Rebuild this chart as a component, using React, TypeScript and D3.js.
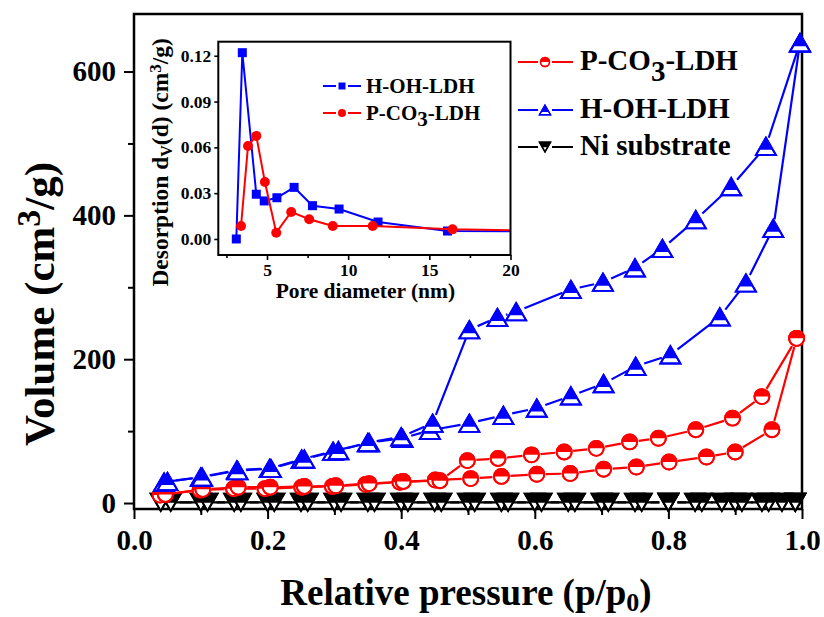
import React, { useEffect, useRef } from "react";
import * as d3 from "d3";

const WIDTH = 824;
const HEIGHT = 617;
const SERIF = "'Liberation Serif', 'Times New Roman', Times, serif";
const RED = "#ff0000";
const BLUE = "#0000ff";
const BLACK = "#000000";

// N2 isotherms: adsorption branch (rising p/p0) and desorption branch (falling p/p0), volume in cm3/g
const pco3AdsP = [0.039, 0.099, 0.149, 0.196, 0.251, 0.297, 0.347, 0.398, 0.451, 0.504, 0.55, 0.603, 0.653, 0.703, 0.752, 0.801, 0.857, 0.9, 0.955, 0.992];
const pco3AdsV = [11, 18, 20, 20, 22, 23, 26, 29, 32, 34, 37, 40, 41, 47, 50, 57, 64, 71, 102, 229];
const pco3DesP = [0.992, 0.94, 0.896, 0.841, 0.785, 0.742, 0.692, 0.644, 0.595, 0.545, 0.499, 0.458, 0.403, 0.352, 0.302, 0.255, 0.204, 0.156, 0.103, 0.047];
const pco3DesV = [229, 148, 118, 102, 90, 85, 76, 71, 67, 62, 59, 31, 30, 27, 24, 23, 22, 22, 19, 12];

const hohAdsP = [0.045, 0.1, 0.154, 0.203, 0.251, 0.298, 0.352, 0.402, 0.443, 0.502, 0.553, 0.603, 0.654, 0.703, 0.751, 0.803, 0.877, 0.916, 0.957, 0.997];
const hohAdsV = [29, 36, 46, 48, 61, 72, 84, 90, 101, 111, 122, 132, 149, 166, 190, 206, 259, 306, 382, 640];
const hohDesP = [0.997, 0.946, 0.894, 0.841, 0.791, 0.75, 0.702, 0.654, 0.572, 0.544, 0.502, 0.447, 0.4, 0.35, 0.306, 0.255, 0.205, 0.155, 0.102, 0.05];
const hohDesV = [640, 496, 440, 394, 354, 327, 307, 297, 266, 258, 241, 111, 92, 84, 73, 61, 48, 45, 36, 30];

const niAdsP = [0.04, 0.1, 0.15, 0.2, 0.25, 0.3, 0.35, 0.4, 0.45, 0.5, 0.55, 0.6, 0.65, 0.7, 0.75, 0.8, 0.85, 0.9, 0.95, 0.99];
const niAdsV = [1, 1, 1, 1, 1, 1, 1, 1, 1, 1, 1, 1, 1, 1, 1, 1, 1, 1, 1, 1];
const niDesP = [0.99, 0.97, 0.94, 0.91, 0.88, 0.84, 0.8, 0.76, 0.71, 0.66, 0.61, 0.56, 0.51, 0.46, 0.41, 0.36, 0.31, 0.26, 0.21, 0.16, 0.11, 0.055];
const niDesV = [1, 1, 1, 1, 1, 1, 1, 1, 1, 1, 1, 1, 1, 1, 1, 1, 1, 1, 1, 1, 1, 1];

// BJH desorption pore size distribution (pore diameter in nm, dV(d) in cm3/g)
const psdHohD = [3.11, 3.48, 4.34, 4.83, 5.61, 6.67, 7.8, 9.44, 11.84, 16.12, 25];
const psdHohV = [0.0, 0.122, 0.0293, 0.0249, 0.027, 0.0338, 0.0218, 0.0196, 0.0111, 0.0052, 0.0048];
const psdPco3D = [3.4, 3.83, 4.34, 4.87, 5.57, 6.49, 7.6, 9.05, 11.51, 16.43, 25];
const psdPco3V = [0.0085, 0.0609, 0.0675, 0.0373, 0.0041, 0.0177, 0.0129, 0.0085, 0.0085, 0.0063, 0.0048];

// Axis ticks
const pressureTicks = [0, 0.2, 0.4, 0.6, 0.8, 1.0];
const pressureMinor = [0.1, 0.3, 0.5, 0.7, 0.9];
const volumeTicks = [0, 200, 400, 600];
const volumeMinor = [100, 300, 500];
const poreTicks = [5, 10, 15, 20];
const poreMinor = [2.5, 7.5, 12.5, 17.5];
const desTicks = [0, 0.03, 0.06, 0.09, 0.12];

const seriesNames = ["P-CO3-LDH", "H-OH-LDH", "Ni substrate"];
const insetNames = ["H-OH-LDH", "P-CO3-LDH"];

type Sel = d3.Selection<any, any, any, any>;
type Kind = "circle" | "triUp" | "triDown";

// Half-filled Origin-style symbol: upper part filled, lower part white
function halfMarker(g: Sel, kind: Kind, s: number, color: string, sw: number) {
  if (kind === "circle") {
    const r = s / 2;
    g.append("circle").attr("r", r).attr("fill", "#fff").attr("stroke", color).attr("stroke-width", sw);
    g.append("path").attr("d", `M${-r},0A${r},${r} 0 0 1 ${r},0Z`).attr("fill", color);
    g.append("circle").attr("r", r).attr("fill", "none").attr("stroke", color).attr("stroke-width", sw);
    return;
  }
  const h = s * 0.866;
  if (kind === "triUp") {
    const outline = `M0,${-h / 2}L${s / 2},${h / 2}L${-s / 2},${h / 2}Z`;
    const c = h * 0.2;
    const wc = ((c + h / 2) / h) * (s / 2);
    g.append("path").attr("d", outline).attr("fill", "#fff").attr("stroke", color).attr("stroke-width", sw).attr("stroke-linejoin", "miter");
    g.append("path").attr("d", `M0,${-h / 2}L${wc},${c}L${-wc},${c}Z`).attr("fill", color);
    g.append("path").attr("d", outline).attr("fill", "none").attr("stroke", color).attr("stroke-width", sw);
  } else {
    const outline = `M${-s / 2},${-h / 2}L${s / 2},${-h / 2}L0,${h / 2}Z`;
    const c = h * 0.02;
    const wc = ((h / 2 - c) / h) * (s / 2);
    g.append("path").attr("d", outline).attr("fill", "#fff").attr("stroke", color).attr("stroke-width", sw);
    g.append("path").attr("d", `M${-s / 2},${-h / 2}L${s / 2},${-h / 2}L${wc},${c}L${-wc},${c}Z`).attr("fill", color);
    g.append("path").attr("d", outline).attr("fill", "none").attr("stroke", color).attr("stroke-width", sw);
  }
}

// Connecting line that stops short of each symbol
function gappedPath(pts: [number, number][], gap: number): string {
  let d = "";
  for (let i = 0; i < pts.length - 1; i++) {
    const [x1, y1] = pts[i];
    const [x2, y2] = pts[i + 1];
    const L = Math.hypot(x2 - x1, y2 - y1);
    if (L <= 2 * gap + 1) continue;
    const ux = (x2 - x1) / L;
    const uy = (y2 - y1) / L;
    d += `M${x1 + ux * gap},${y1 + uy * gap}L${x2 - ux * gap},${y2 - uy * gap}`;
  }
  return d;
}

// Writes a label, lowering the digit that follows "CO" as a subscript
function chemLabel(t: Sel, label: string, shift: number, subScale: number) {
  const m = label.match(/^(.*CO)(\d)(.*)$/);
  if (!m) {
    t.text(label);
    return;
  }
  t.append("tspan").text(m[1]);
  t.append("tspan").attr("dy", shift).attr("font-size", `${subScale}em`).text(m[2]);
  t.append("tspan").attr("dy", -shift).text(m[3]);
}

export default function App() {
  const ref = useRef<SVGSVGElement>(null);

  useEffect(() => {
    const svg = d3.select(ref.current);
    svg.selectAll("*").remove();
    svg.append("rect").attr("width", WIDTH).attr("height", HEIGHT).attr("fill", "#fff");

    // ---------- main isotherm panel ----------
    const x = d3.scaleLinear().domain([0, 1]).range([134, 802]);
    const y = d3.scaleLinear().domain([-8.3, 680]).range([509, 14]);
    const [x0, x1] = x.range();
    const [yb, yt] = y.range();

    const axisStyle = (g: Sel, fs: number) => {
      g.select(".domain").remove();
      g.selectAll("line").attr("stroke", BLACK).attr("stroke-width", 2);
      g.selectAll("text")
        .attr("font-family", SERIF)
        .attr("font-weight", "bold")
        .attr("font-size", fs)
        .attr("fill", BLACK);
    };

    svg.append("g").attr("transform", `translate(0,${yb})`)
      .call(d3.axisBottom(x).tickValues(pressureMinor).tickSize(6).tickFormat(() => ""))
      .call((g: Sel) => axisStyle(g, 29));
    svg.append("g").attr("transform", `translate(0,${yb})`)
      .call(d3.axisBottom(x).tickValues(pressureTicks).tickSize(10).tickPadding(10).tickFormat(d3.format(".1f")))
      .call((g: Sel) => axisStyle(g, 29));
    svg.append("g").attr("transform", `translate(${x0},0)`)
      .call(d3.axisLeft(y).tickValues(volumeMinor).tickSize(6).tickFormat(() => ""))
      .call((g: Sel) => axisStyle(g, 29));
    svg.append("g").attr("transform", `translate(${x0},0)`)
      .call(d3.axisLeft(y).tickValues(volumeTicks).tickSize(10).tickPadding(8).tickFormat(d3.format("d")))
      .call((g: Sel) => axisStyle(g, 29));

    svg.append("rect")
      .attr("x", x0).attr("y", yt).attr("width", x1 - x0).attr("height", yb - yt)
      .attr("fill", "none").attr("stroke", BLACK).attr("stroke-width", 2.5);

    const drawIsotherm = (
      branches: [number[], number[]][], color: string, kind: Kind, size: number, gap: number
    ) => {
      const layer = svg.append("g");
      branches.forEach(([ps, vs]) => {
        const pts: [number, number][] = ps.map((p, i) => [x(p), y(vs[i])]);
        layer.append("path").attr("d", gappedPath(pts, gap))
          .attr("fill", "none").attr("stroke", color).attr("stroke-width", 2.2);
      });
      branches.forEach(([ps, vs]) => {
        ps.forEach((p, i) => {
          const g = layer.append("g").attr("transform", `translate(${x(p)},${y(vs[i])})`);
          halfMarker(g, kind, size, color, 1.9);
        });
      });
    };

    drawIsotherm([[niAdsP, niAdsV], [niDesP, niDesV]], BLACK, "triDown", 20, 9);
    drawIsotherm([[pco3AdsP, pco3AdsV], [pco3DesP, pco3DesV]], RED, "circle", 15, 9);
    drawIsotherm([[hohAdsP, hohAdsV], [hohDesP, hohDesV]], BLUE, "triUp", 20, 9);

    // axis titles
    const xt = svg.append("text")
      .attr("x", (x0 + x1) / 2 - 2).attr("y", 605)
      .attr("text-anchor", "middle").attr("font-family", SERIF).attr("font-weight", "bold")
      .attr("font-size", 37).attr("fill", BLACK);
    xt.append("tspan").text("Relative pressure (p/p");
    xt.append("tspan").attr("font-size", 26).attr("dy", 6).text("0");
    xt.append("tspan").attr("dy", -6).text(")");

    const yTitle = svg.append("text")
      .attr("transform", "translate(54,304) rotate(-90)")
      .attr("text-anchor", "middle").attr("font-family", SERIF).attr("font-weight", "bold")
      .attr("font-size", 43).attr("fill", BLACK);
    yTitle.append("tspan").text("Volume (cm");
    yTitle.append("tspan").attr("font-size", 34).attr("dy", -14).text("3");
    yTitle.append("tspan").attr("dy", 14).text("/g)");

    // main legend
    const legendKinds: Kind[] = ["circle", "triUp", "triDown"];
    const legendColors = [RED, BLUE, BLACK];
    const legendY = [62, 110, 147];
    const legendBase = [70, 118, 155];
    seriesNames.forEach((name, i) => {
      const cx = 545;
      svg.append("path")
        .attr("d", `M518,${legendY[i]}L${cx - 7},${legendY[i]}M${cx + 7},${legendY[i]}L573,${legendY[i]}`)
        .attr("stroke", legendColors[i]).attr("stroke-width", 2.2);
      const g = svg.append("g").attr("transform", `translate(${cx},${legendY[i]})`);
      halfMarker(g, legendKinds[i], legendKinds[i] === "circle" ? 9 : 11, legendColors[i], 1.4);
      const t = svg.append("text")
        .attr("x", 580).attr("y", legendBase[i])
        .attr("font-family", SERIF).attr("font-weight", "bold").attr("font-size", 29).attr("fill", BLACK);
      chemLabel(t, name, 11, 1);
    });

    // ---------- inset: pore size distribution ----------
    const xi = d3.scaleLinear().domain([2, 20]).range([218.3, 510.5]);
    const yi = d3.scaleLinear().domain([-0.0105, 0.1292]).range([255, 41.7]);
    const [ix0, ix1] = xi.range();
    const [iyb, iyt] = yi.range();

    svg.append("rect")
      .attr("x", ix0).attr("y", iyt).attr("width", ix1 - ix0).attr("height", iyb - iyt)
      .attr("fill", "#fff");

    const defs = svg.append("defs");
    defs.append("clipPath").attr("id", "inset-clip")
      .append("rect").attr("x", ix0).attr("y", iyt).attr("width", ix1 - ix0).attr("height", iyb - iyt);

    const insetAxis = (g: Sel) => {
      g.select(".domain").remove();
      g.selectAll("line").attr("stroke", BLACK).attr("stroke-width", 1.6);
      g.selectAll("text")
        .attr("font-family", SERIF).attr("font-weight", "bold").attr("font-size", 17.5).attr("fill", BLACK);
    };
    svg.append("g").attr("transform", `translate(0,${iyb})`)
      .call(d3.axisBottom(xi).tickValues(poreMinor).tickSize(3).tickFormat(() => ""))
      .call(insetAxis);
    svg.append("g").attr("transform", `translate(0,${iyb})`)
      .call(d3.axisBottom(xi).tickValues(poreTicks).tickSize(5).tickPadding(4).tickFormat(d3.format("d")))
      .call(insetAxis);
    svg.append("g").attr("transform", `translate(${ix0},0)`)
      .call(d3.axisLeft(yi).tickValues(desTicks).tickSize(4).tickPadding(3).tickFormat(d3.format(".2f")))
      .call(insetAxis);

    const plot = svg.append("g").attr("clip-path", "url(#inset-clip)");
    const psdLine = d3.line<[number, number]>().x((d) => xi(d[0])).y((d) => yi(d[1]));
    const hohPts: [number, number][] = psdHohD.map((d, i) => [d, psdHohV[i]]);
    const pco3Pts: [number, number][] = psdPco3D.map((d, i) => [d, psdPco3V[i]]);
    plot.append("path").attr("d", psdLine(hohPts)).attr("fill", "none").attr("stroke", BLUE).attr("stroke-width", 2);
    plot.selectAll(".sq").data(hohPts).join("rect")
      .attr("x", (d) => xi(d[0]) - 4.5).attr("y", (d) => yi(d[1]) - 4.5)
      .attr("width", 9).attr("height", 9).attr("fill", BLUE);
    plot.append("path").attr("d", psdLine(pco3Pts)).attr("fill", "none").attr("stroke", RED).attr("stroke-width", 2);
    plot.selectAll(".dot").data(pco3Pts).join("circle")
      .attr("cx", (d) => xi(d[0])).attr("cy", (d) => yi(d[1])).attr("r", 5).attr("fill", RED);

    svg.append("rect")
      .attr("x", ix0).attr("y", iyt).attr("width", ix1 - ix0).attr("height", iyb - iyt)
      .attr("fill", "none").attr("stroke", BLACK).attr("stroke-width", 2);

    // inset legend
    const iLegY = [86, 113];
    const iColors = [BLUE, RED];
    insetNames.forEach((name, i) => {
      const cx = 342;
      svg.append("path")
        .attr("d", `M323,${iLegY[i]}L${cx - 6},${iLegY[i]}M${cx + 6},${iLegY[i]}L361,${iLegY[i]}`)
        .attr("stroke", iColors[i]).attr("stroke-width", 2);
      if (i === 0) {
        svg.append("rect").attr("x", cx - 3.5).attr("y", iLegY[i] - 3.5).attr("width", 7).attr("height", 7).attr("fill", BLUE);
      } else {
        svg.append("circle").attr("cx", cx).attr("cy", iLegY[i]).attr("r", 4).attr("fill", RED);
      }
      const t = svg.append("text")
        .attr("x", 366).attr("y", iLegY[i] + 7)
        .attr("font-family", SERIF).attr("font-weight", "bold").attr("font-size", 21).attr("fill", BLACK);
      chemLabel(t, name, 6, 1);
    });

    // inset axis titles
    svg.append("text")
      .attr("x", (ix0 + ix1) / 2 + 1).attr("y", 298)
      .attr("text-anchor", "middle").attr("font-family", SERIF).attr("font-weight", "bold")
      .attr("font-size", 21.5).attr("fill", BLACK)
      .text("Pore diameter (nm)");

    const iyTitle = svg.append("text")
      .attr("transform", `translate(168,${(iyb + iyt) / 2 + 14}) rotate(-90)`)
      .attr("text-anchor", "middle").attr("font-family", SERIF).attr("font-weight", "bold")
      .attr("font-size", 23.5).attr("fill", BLACK);
    iyTitle.append("tspan").text("Desorption d");
    iyTitle.append("tspan").attr("font-size", 16).attr("dy", 4).text("V");
    iyTitle.append("tspan").attr("dy", -4).text("(d) (cm");
    iyTitle.append("tspan").attr("font-size", 17).attr("dy", -7).text("3");
    iyTitle.append("tspan").attr("dy", 7).text("/g)");
  }, []);

  return (
    <svg
      ref={ref}
      width={WIDTH}
      height={HEIGHT}
      style={{ position: "absolute", left: 0, top: 0, display: "block" }}
    />
  );
}
